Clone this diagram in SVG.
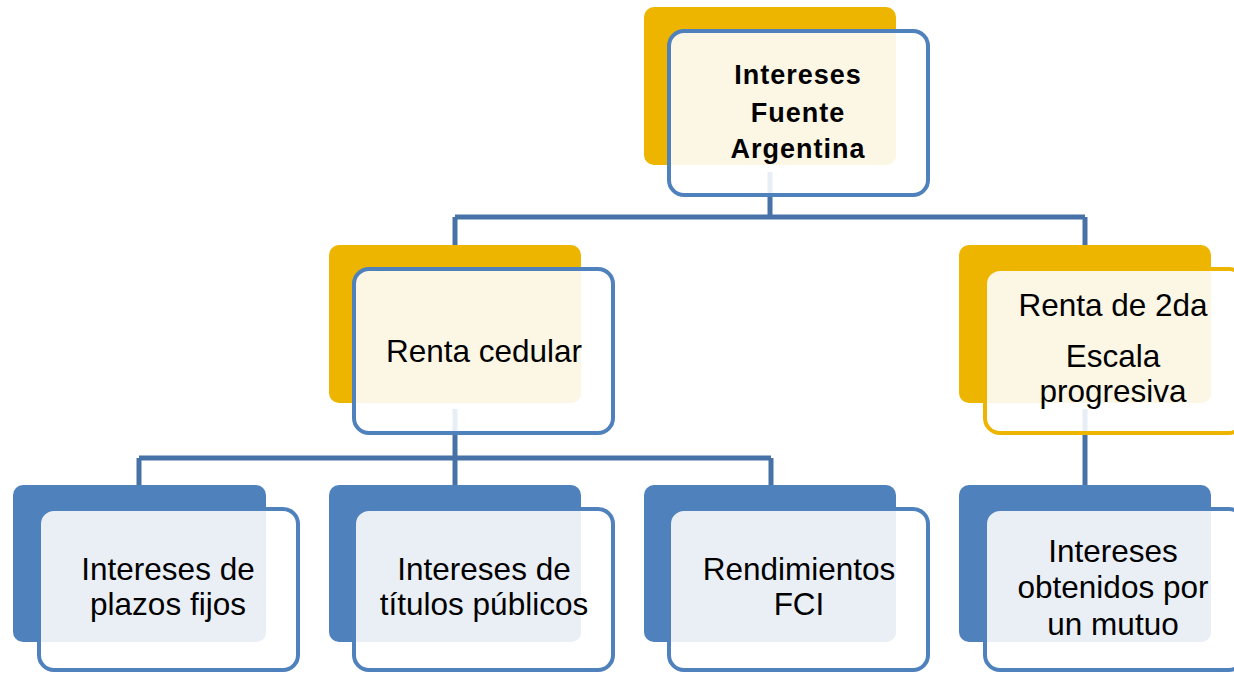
<svg xmlns="http://www.w3.org/2000/svg" width="1234" height="673" viewBox="0 0 1234 673">
<style>
.gback{fill:#EDB400}
.bback{fill:#4F81BD}
.ffill{fill:#FFFFFF;fill-opacity:0.88}
.cream{fill:#FCF6E5}
.pale{fill:#EAEFF6}
.bstroke{fill:none;stroke:#4F81BD;stroke-width:4}
.gstroke{fill:none;stroke:#EDB400;stroke-width:4}
.conn{fill:none;stroke:#4672A8;stroke-width:5}
text{font-family:"Liberation Sans",Arial,sans-serif;font-size:31.5px;fill:#000;text-anchor:middle}
.bold{font-weight:bold;font-size:27px;letter-spacing:1px}
</style>
<rect width="1234" height="673" fill="#FFFFFF"/>
<g id="connectors">
<path class="conn" d="M770,172 V217 M455,217 H1085 M455,217 V245 M1085,217 V245"/>
<path class="conn" d="M455,409 V485 M139,458 H771 M139,458 V485 M771,458 V485"/>
<path class="conn" d="M1085,409 V485"/>
</g>
<g id="node-intereses-fuente-argentina">
<rect class="gback" x="644" y="7" width="252" height="158" rx="10"/>
<rect class="ffill" x="669" y="31" width="259" height="164" rx="15"/>
<path class="cream" d="M671,46 A13,13 0 0 1 684,33 H896 V155 A10,10 0 0 1 886,165 H671 Z"/>
<rect class="bstroke" x="669" y="31" width="259" height="164" rx="15"/>
<text class="bold" x="798" y="84">Intereses</text>
<text class="bold" x="798" y="122">Fuente</text>
<text class="bold" x="798" y="158">Argentina</text>
</g>
<g id="node-renta-cedular">
<rect class="gback" x="329" y="245" width="252" height="158" rx="10"/>
<rect class="ffill" x="354" y="269" width="259" height="164" rx="15"/>
<path class="cream" d="M356,284 A13,13 0 0 1 369,271 H581 V393 A10,10 0 0 1 571,403 H356 Z"/>
<rect class="bstroke" x="354" y="269" width="259" height="164" rx="15"/>
<text x="484" y="362">Renta cedular</text>
</g>
<g id="node-renta-2da">
<rect class="gback" x="959" y="245" width="252" height="158" rx="10"/>
<rect class="ffill" x="985" y="269" width="259" height="164" rx="15"/>
<path class="cream" d="M987,284 A13,13 0 0 1 1000,271 H1211 V393 A10,10 0 0 1 1201,403 H987 Z"/>
<rect class="gstroke" x="985" y="269" width="259" height="164" rx="15"/>
<text x="1113" y="316">Renta de 2da</text>
<text x="1113" y="367">Escala</text>
<text x="1113" y="402">progresiva</text>
</g>
<g id="node-plazos-fijos">
<rect class="bback" x="13" y="485" width="253" height="157" rx="10"/>
<rect class="ffill" x="39" y="509" width="259" height="161" rx="15"/>
<path class="pale" d="M41,524 A13,13 0 0 1 54,511 H266 V632 A10,10 0 0 1 256,642 H41 Z"/>
<rect class="bstroke" x="39" y="509" width="259" height="161" rx="15"/>
<text x="168" y="580">Intereses de</text>
<text x="168" y="615">plazos fijos</text>
</g>
<g id="node-titulos-publicos">
<rect class="bback" x="329" y="485" width="252" height="157" rx="10"/>
<rect class="ffill" x="354" y="509" width="259" height="161" rx="15"/>
<path class="pale" d="M356,524 A13,13 0 0 1 369,511 H581 V632 A10,10 0 0 1 571,642 H356 Z"/>
<rect class="bstroke" x="354" y="509" width="259" height="161" rx="15"/>
<text x="484" y="580">Intereses de</text>
<text x="484" y="615">títulos públicos</text>
</g>
<g id="node-rendimientos-fci">
<rect class="bback" x="644" y="485" width="252" height="157" rx="10"/>
<rect class="ffill" x="669" y="509" width="259" height="161" rx="15"/>
<path class="pale" d="M671,524 A13,13 0 0 1 684,511 H896 V632 A10,10 0 0 1 886,642 H671 Z"/>
<rect class="bstroke" x="669" y="509" width="259" height="161" rx="15"/>
<text x="799" y="580">Rendimientos</text>
<text x="799" y="615">FCI</text>
</g>
<g id="node-mutuo">
<rect class="bback" x="959" y="485" width="252" height="157" rx="10"/>
<rect class="ffill" x="985" y="509" width="259" height="161" rx="15"/>
<path class="pale" d="M987,524 A13,13 0 0 1 1000,511 H1211 V632 A10,10 0 0 1 1201,642 H987 Z"/>
<rect class="bstroke" x="985" y="509" width="259" height="161" rx="15"/>
<text x="1113" y="562">Intereses</text>
<text x="1113" y="598">obtenidos por</text>
<text x="1113" y="635">un mutuo</text>
</g>
</svg>
